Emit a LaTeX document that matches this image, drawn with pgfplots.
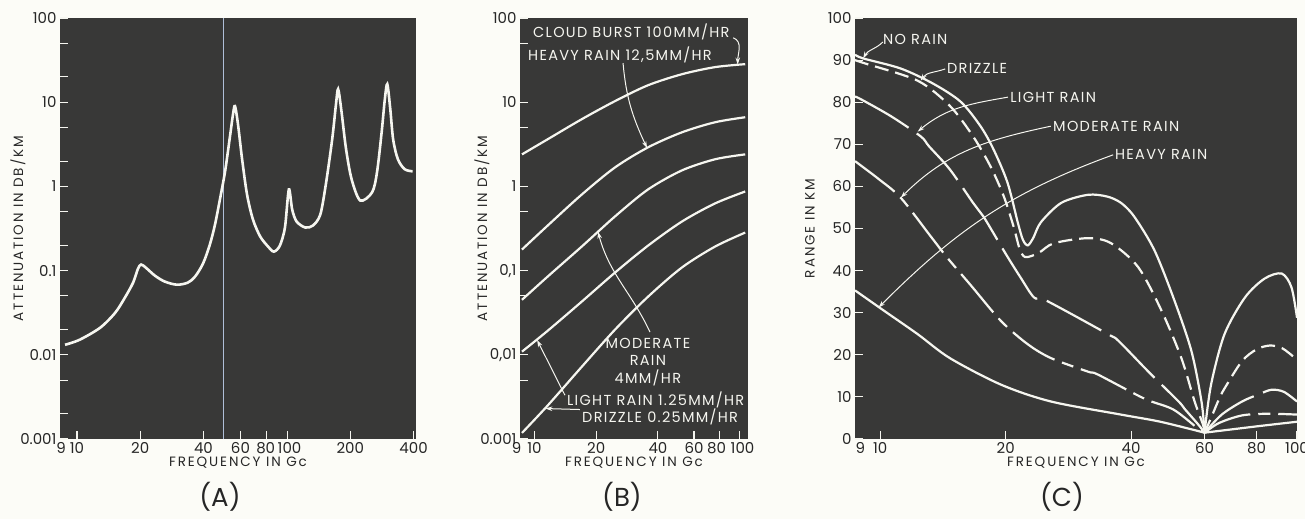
\documentclass[border=0pt]{standalone}
\usepackage{pgfplots}
\pgfplotsset{compat=1.18}
\usepackage{fontspec}
\setmainfont{Poppins}
\newfontfamily\labfont[LetterSpace=14]{Poppins}
\newfontfamily\annfont[LetterSpace=9]{Poppins}
\usetikzlibrary{arrows.meta}
\definecolor{bg}{RGB}{56,56,55}
\definecolor{paper}{RGB}{252,252,247}
\definecolor{ink}{RGB}{38,38,38}
\definecolor{curve}{RGB}{246,246,240}
\definecolor{fold}{RGB}{175,190,215}

\tikzset{
  ann/.style={font=\annfont\fontsize{14.5}{14.5}\selectfont, text=curve, inner sep=0pt},
  annarrow/.style={draw=curve, line width=1pt, -{Stealth[length=7pt,width=4.5pt]}},
}
\pgfplotsset{
  panel/.style={
    scale only axis, anchor=south west, height=421pt,
    axis background/.style={fill=bg},
    axis line style={draw=none},
    tick pos=left, tick align=inside,
    major tick length=8pt, minor tick length=8pt,
    tick style={draw=curve, line width=1.1pt},
    tick label style={font=\fontsize{15}{15}\selectfont, text=ink},
    /pgf/number format/assume math mode=true,
    xlabel style={font=\labfont\fontsize{13.5}{13.5}\selectfont, text=ink, anchor=center},
    ylabel style={font=\labfont\fontsize{13.5}{13.5}\selectfont, text=ink, anchor=center},
  },
  crv/.style={draw=curve, line width=2.2pt, smooth, tension=0.5, no marks},
  drz/.style={crv, dash pattern=on 14pt off 7pt},
  lgt/.style={crv, dash pattern=on 62pt off 10pt},
  mod/.style={crv, dash pattern=on 50pt off 8pt on 12pt off 8pt},
}

\begin{document}
\begin{tikzpicture}
\useasboundingbox (0,0) rectangle (1305pt,519pt);
\fill[paper] (0,0) rectangle (1305pt,519pt);

% ---------------- (A) ----------------
\begin{axis}[panel, at={(60pt,80pt)}, width=356pt,
  xmode=log, ymode=log, xmin=8.3, xmax=411, ymin=0.001, ymax=100,
  xtick={10,20,40,60,80,100,200,400},
  xticklabels={\llap{9\hspace{4pt}}10,20,40,60,80\kern2pt,\kern5pt100,200,400},
  ytick={0.001,0.01,0.1,1,10,100},
  yticklabels={0.001,0.01,0.1,1,10,100},
  minor ytick={0.002,0.005,0.02,0.05,0.2,0.5,2,5,20,50},
  xlabel={FREQUENCY IN Gc}, ylabel={ATTENUATION IN DB/KM},
  xlabel style={at={([yshift=-24pt]axis description cs:0.5,0)}},
  ylabel style={at={([xshift=-42pt]axis description cs:0,0.5)}},
]
\addplot[draw=fold, line width=0.8pt, no marks] coordinates {(50,0.001) (50,100)};
\addplot[crv, line width=2.6pt] coordinates {
(8.77,0.01315) (10.3,0.0151) (12.9,0.0210) (15.2,0.0316) (16.9,0.0477)
(18.5,0.072) (19.5,0.105) (20.2,0.118) (21.3,0.108) (23.5,0.087)
(26.2,0.074) (29.9,0.068) (33.7,0.072) (36.5,0.085) (39.8,0.121)
(42.9,0.204) (45.4,0.353) (47.9,0.70) (50.7,1.51) (53.5,3.94)
(55.3,7.2) (56.5,9.0) (58.4,5.47) (61.1,2.1) (64.5,0.80)
(68.8,0.405) (74.5,0.254) (81.2,0.193) (86.5,0.168) (92.4,0.198)
(97.7,0.325) (102,0.92) (105.8,0.53) (111,0.383) (122,0.325)
(133,0.344) (144,0.464) (153,1.06) (164,3.63) (171,9.5)
(175,14.3) (181,8.3) (191,2.76) (203,1.21) (223,0.68)
(254,0.85) (268,1.47) (282,4.4) (292,10.8) (300,16.4)
(310,8.3) (320,3.6) (337,2.1) (363,1.6) (396,1.51)};
\end{axis}

% ---------------- (B) ----------------
\begin{axis}[panel, at={(520pt,80pt)}, width=228pt,
  xmode=log, ymode=log, xmin=8.5, xmax=110, ymin=0.001, ymax=100,
  xtick={10,20,40,60,80,100},
  xticklabels={\llap{9\hspace{6pt}}10,20,40,60,80\kern6pt,\kern6pt100},
  ytick={0.001,0.01,0.1,1,10,100},
  yticklabels={0.001,{0,01},{0,1},1,10,100},
  minor ytick={0.005,0.05,0.5,5,50},
  xlabel={FREQUENCY IN Gc}, ylabel={ATTENUATION IN DB/KM},
  xlabel style={at={([yshift=-24pt]axis description cs:0.5,0)}},
  ylabel style={at={([xshift=-38pt]axis description cs:0,0.5)}},
]
\addplot[crv] coordinates {(8.69,2.40) (11.6,3.63) (17.0,6.28) (24.7,10.3) (35.8,15.9) (52.4,21.5) (76,26.1) (106.6,28.3)};
\addplot[crv] coordinates {(8.69,0.178) (11.6,0.343) (17.0,0.80) (24.7,1.68) (35.8,2.91) (52.4,4.39) (76,5.78) (106.6,6.63)};
\addplot[crv] coordinates {(8.69,0.045) (11.6,0.085) (17.0,0.193) (24.7,0.44) (35.8,0.92) (52.4,1.55) (76,2.1) (106.6,2.4)};
\addplot[crv] coordinates {(8.69,0.0109) (11.6,0.0193) (17.0,0.0428) (24.7,0.0947) (35.8,0.198) (52.4,0.383) (76,0.628) (106.6,0.87)};
\addplot[crv] coordinates {(8.69,0.00118) (11.6,0.0025) (17.0,0.0072) (24.7,0.0199) (35.8,0.049) (52.4,0.109) (76,0.193) (106.6,0.283)};
\node[ann, anchor=west] at (rel axis cs:0.057,0.967) {CLOUD BURST 100MM/HR};
\node[ann, anchor=west] at (rel axis cs:0.035,0.912) {HEAVY RAIN 12,5MM/HR};
\node[ann, align=center] at (rel axis cs:0.561,0.183) {MODERATE\\[3pt]RAIN\\[3pt]4MM/HR};
\node[ann, anchor=west] at (rel axis cs:0.206,0.093) {LIGHT RAIN 1.25MM/HR};
\node[ann, anchor=west] at (rel axis cs:0.272,0.052) {DRIZZLE 0.25MM/HR};
\draw[annarrow] (rel axis cs:0.935,0.953) to[out=-20,in=90] (axis cs:98,28);
\draw[annarrow] (rel axis cs:0.452,0.893) to[out=-85,in=115] (axis cs:35.4,2.85);
\draw[annarrow] (rel axis cs:0.57,0.254) to[out=115,in=-75] (axis cs:20.4,0.29);
\draw[annarrow] (rel axis cs:0.197,0.104) -- (axis cs:10.3,0.0150);
\draw[annarrow] (rel axis cs:0.263,0.07) -- (axis cs:11.3,0.0023);
\end{axis}

% ---------------- (C) ----------------
\begin{axis}[panel, at={(855pt,80pt)}, width=442pt,
  xmode=log, xmin=8.7, xmax=100, ymin=0, ymax=100,
  xtick={10,20,40,60,80,100},
  xticklabels={\llap{9\hspace{8pt}}10,20,40,60,80,100},
  ytick={0,10,...,100},
  xlabel={FREQUENCY IN Gc}, ylabel={RANGE IN KM},
  xlabel style={at={([yshift=-24pt]axis description cs:0.5,0)}},
  ylabel style={at={([xshift=-45pt]axis description cs:0,0.5)}},
]
% no rain
\addplot[crv] coordinates {(8.7,91.3) (9.1,90.4) (11.2,88.0) (13.4,84.4) (15.6,80.1) (17.4,74.3)
 (18.7,68.8) (20.2,60.9) (21.4,51.3) (22.0,47.3) (22.6,46.0) (23.3,47.8) (24.3,51.5)
 (27.2,56.1) (31.5,58.0) (35.0,57.6) (37.8,56.1) (40.7,52.8) (45.5,44.8) (50.8,32.9)
 (55.8,20.9) (59.0,8.9) (60,1.5)};
\addplot[crv] coordinates {(60,1.5) (62.2,12.9) (67,24.9) (75,33.6) (83.6,38.1) (91.9,39.3) (97,36) (100,28.8)};
% drizzle
\addplot[drz] coordinates {(8.7,90.0) (9.2,89.2) (12.3,85.1) (14.7,79.1) (16.7,71.9) (18.4,64.7)
 (19.8,57.6) (20.9,50.4) (21.6,45.2) (22.3,43.2) (24.0,44.2) (26.1,46.5) (31.5,47.7)
 (35.8,46.5) (41.6,40.8) (47.3,30.5) (52.8,19.2) (56.8,8.9) (59.5,3.4) (60,1.5)};
\addplot[drz] coordinates {(60,1.5) (62.5,5.5) (65,9.5) (67,12) (73.8,18.5) (80,21.3) (86,22.2) (92,21.6) (99,19.2) (100,18.6)};
% light rain
\addplot[lgt] coordinates {(8.7,81.3) (8.95,80.8) (10.6,76.7) (12.5,71.9) (13.1,69.5) (14.7,64.0)
 (16.7,56.1) (17.7,52.8) (20.0,44.0) (21.7,38.4) (23.4,33.6) (25.0,32.9) (35.2,24.9)
 (37.3,23.3) (44,16) (52,8.9) (53.7,7.2) (58,3.4) (60,1.5)};
\addplot[lgt] coordinates {(60,1.5) (66,5.8) (73.8,8.9) (80.9,10.6) (86.9,11.7) (93,11.2) (100,8.9)};
% moderate rain
\addplot[mod] coordinates {(8.7,66) (9.9,61.8) (11.2,57.3) (13.2,48.2) (14.5,43) (16.5,36.5) (19.5,28)
 (22.6,22.5) (25.7,19.2) (31.5,16) (33.3,15.3) (43,9.6) (50.5,7) (58,2.4) (60,1.5)};
\addplot[mod] coordinates {(60,1.5) (65,3.8) (73.8,5.6) (85,6.0) (100,5.8)};
% heavy rain
\addplot[crv] coordinates {(8.7,35.3) (10.2,30.5) (12.3,24.9) (14.7,19.2) (19.5,12.9)
 (25.7,8.9) (37.8,5.8) (47,4.1) (60,1.5)};
\addplot[crv] coordinates {(60,1.5) (80,3.0) (100,4.1)};
% annotations
\node[ann, anchor=west] at (rel axis cs:0.063,0.948) {NO RAIN};
\node[ann, anchor=west] at (rel axis cs:0.208,0.881) {DRIZZLE};
\node[ann, anchor=west] at (rel axis cs:0.351,0.812) {LIGHT RAIN};
\node[ann, anchor=west] at (rel axis cs:0.448,0.743) {MODERATE RAIN};
\node[ann, anchor=west] at (rel axis cs:0.588,0.675) {HEAVY RAIN};
\draw[annarrow] (rel axis cs:0.063,0.943) to[out=225,in=60] (axis cs:9.1,90.4);
\draw[annarrow] (rel axis cs:0.204,0.879) to[out=200,in=55] (axis cs:12.5,85.1);
\draw[annarrow] (rel axis cs:0.346,0.812) to[out=190,in=40] (axis cs:12.3,73);
\draw[annarrow] (rel axis cs:0.443,0.743) to[out=192,in=45] (axis cs:11.2,57.3);
\draw[annarrow] (rel axis cs:0.584,0.675) to[out=200,in=45] (axis cs:9.9,31.2);
\end{axis}

\node[font=\fontsize{26}{26}\selectfont, text=ink] at (220pt,22pt) {(A)};
\node[font=\fontsize{26}{26}\selectfont, text=ink] at (622pt,22pt) {(B)};
\node[font=\fontsize{26}{26}\selectfont, text=ink] at (1062pt,22pt) {(C)};
\end{tikzpicture}
\end{document}
